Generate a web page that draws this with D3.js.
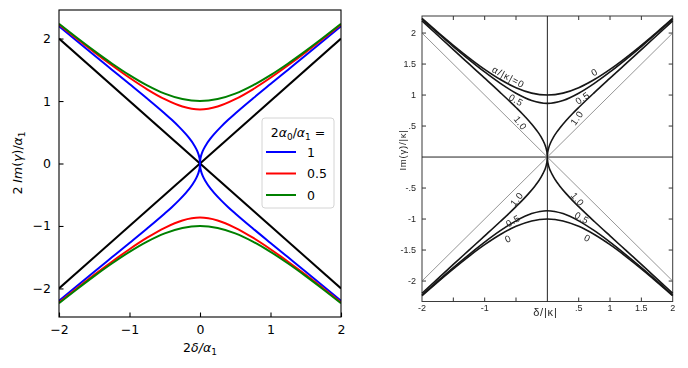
<!DOCTYPE html>
<meta charset="utf-8">
<title>Im(gamma) vs detuning</title>
<style>
body { margin: 0; background: #fff; }
svg { display: block; font-family: "DejaVu Sans", sans-serif; }
.scan text { font-family: "Liberation Sans", Arial, sans-serif; fill: #262626; }
</style>
<body>
<script src="https://d3js.org/d3.v7.min.js"></script>
<script>

// values, right half only (curves are symmetric in x)
var xFine   = [0, 0.005, 0.01, 0.02, 0.03, 0.05, 0.1, 0.15, 0.2, 0.3, 0.4, 0.5, 0.75, 1, 1.25, 1.5, 1.75, 2];
var yA1     = [0, 0.071, 0.100, 0.142, 0.175, 0.226, 0.324, 0.402, 0.470, 0.590, 0.699, 0.800, 1.040, 1.272, 1.502, 1.732, 1.964, 2.197];
var xCoarse = [0, 0.25, 0.5, 0.75, 1, 1.25, 1.5, 1.75, 2];
var yA05    = [0.866, 0.912, 1.029, 1.188, 1.372, 1.572, 1.782, 2.001, 2.225];
var yA0     = [1, 1.031, 1.118, 1.25, 1.414, 1.601, 1.803, 2.016, 2.236];

var legendLabels = ["1", "0.5", "0"];
var seriesColors = ["#0000ff", "#ff0000", "#008000"];
var asymptotes = [[[-2, -2], [2, 2]], [[-2, 2], [2, -2]]];

var leftTicks = [-2, -1, 0, 1, 2];
var scanYTicks = [-2, -1.5, -1, -0.5, 0.5, 1, 1.5, 2];
var scanXTicks = [-1.5, -1, -0.5, 0.5, 1, 1.5];
var scanXLabels = ["-2", "-1", ".5", "1", "1.5", "2"];
var scanXLabelAt = [-2, -1, 0.5, 1, 1.5, 2];

var series = [
  {xs: xFine, ys: yA1},
  {xs: xCoarse, ys: yA05},
  {xs: xCoarse, ys: yA0}
];

// mirror the right half to get a full branch from -2 to 2
function branch(xs, ys, sign) {
  var pts = [];
  for (var i = xs.length - 1; i > 0; i--) pts.push([-xs[i], sign * ys[i]]);
  for (var j = 0; j < xs.length; j++) pts.push([xs[j], sign * ys[j]]);
  return pts;
}

var width = 688, height = 368;
var svg = d3.select("body").append("svg")
    .attr("width", width)
    .attr("height", height);

/* ---------- left panel (matplotlib style) ---------- */
var x = d3.scaleLinear().domain([-2, 2]).range([59, 341]);
var y = d3.scaleLinear().domain([-2.457, 2.457]).range([317, 10]);

var line = d3.line()
    .x(function(d) { return x(d[0]); })
    .y(function(d) { return y(d[1]); })
    .curve(d3.curveMonotoneX);

var L = svg.append("g");

L.append("defs").append("clipPath").attr("id", "clipL")
  .append("rect").attr("x", 59).attr("y", 10).attr("width", 282).attr("height", 307);

var plot = L.append("g").attr("clip-path", "url(#clipL)");

asymptotes.forEach(function(a) {
  plot.append("path").attr("d", d3.line().x(function(d) { return x(d[0]); }).y(function(d) { return y(d[1]); })(a))
    .attr("fill", "none").attr("stroke", "#000").attr("stroke-width", 2);
});

series.forEach(function(s, i) {
  [1, -1].forEach(function(sg) {
    plot.append("path")
      .attr("d", line(branch(s.xs, s.ys, sg)))
      .attr("fill", "none")
      .attr("stroke", seriesColors[i])
      .attr("stroke-width", 2);
  });
});

// axes, ticks pointing inward
var xAxis = d3.axisBottom(x).tickValues(leftTicks).tickSizeInner(-4.5).tickSizeOuter(0).tickPadding(8)
    .tickFormat(function(d) { return d < 0 ? "\u2212" + (-d) : d; });
var yAxis = d3.axisLeft(y).tickValues(leftTicks).tickSizeInner(-4.5).tickSizeOuter(0).tickPadding(8)
    .tickFormat(function(d) { return d < 0 ? "\u2212" + (-d) : d; });

var gx = L.append("g").attr("transform", "translate(0,317)").call(xAxis);
var gy = L.append("g").attr("transform", "translate(59,0)").call(yAxis);
[gx, gy].forEach(function(g) {
  g.select(".domain").remove();
  g.selectAll("line").attr("stroke", "#000").attr("stroke-width", 1.1);
  g.selectAll("text").attr("font-family", "DejaVu Sans").attr("font-size", 12.5).attr("fill", "#000");
});

L.append("rect").attr("x", 59).attr("y", 10).attr("width", 282).attr("height", 307)
  .attr("fill", "none").attr("stroke", "#000").attr("stroke-width", 1.1);

// axis labels
var xl = L.append("text").attr("x", 200).attr("y", 352).attr("text-anchor", "middle").attr("font-size", 12.5);
xl.append("tspan").text("2");
xl.append("tspan").attr("font-style", "italic").text("\u03b4/\u03b1");
xl.append("tspan").attr("font-size", 9).attr("dy", 3).text("1");

var yl = L.append("text").attr("transform", "translate(22,163) rotate(-90)").attr("text-anchor", "middle").attr("font-size", 12.5);
yl.append("tspan").text("2 ");
yl.append("tspan").attr("font-style", "italic").text("Im");
yl.append("tspan").text("(");
yl.append("tspan").attr("font-style", "italic").text("\u03b3");
yl.append("tspan").text(")/");
yl.append("tspan").attr("font-style", "italic").text("\u03b1");
yl.append("tspan").attr("font-size", 9).attr("dy", 3).text("1");

// legend
var lg = L.append("g");
lg.append("rect").attr("x", 262).attr("y", 118).attr("width", 72).attr("height", 90).attr("rx", 3)
  .attr("fill", "#fff").attr("fill-opacity", 0.85).attr("stroke", "#d4d4d4").attr("stroke-width", 1);
var lt = lg.append("text").attr("x", 298).attr("y", 137).attr("text-anchor", "middle").attr("font-size", 12.5);
lt.append("tspan").text("2");
lt.append("tspan").attr("font-style", "italic").text("\u03b1");
lt.append("tspan").attr("font-size", 9).attr("dy", 3).text("0");
lt.append("tspan").attr("dy", -3).text("/");
lt.append("tspan").attr("font-style", "italic").text("\u03b1");
lt.append("tspan").attr("font-size", 9).attr("dy", 3).text("1");
lt.append("tspan").attr("dy", -3).text(" =");

legendLabels.forEach(function(lab, i) {
  var yy = 152 + i * 21.5;
  lg.append("line").attr("x1", 266).attr("x2", 296).attr("y1", yy).attr("y2", yy)
    .attr("stroke", seriesColors[i]).attr("stroke-width", 2);
  lg.append("text").attr("x", 307).attr("y", yy + 4.5).attr("font-size", 12.5).text(lab);
});

/* ---------- right panel (old scanned figure) ---------- */
var xr = d3.scaleLinear().domain([-2, 2]).range([422, 672.7]);
var yr = d3.scaleLinear().domain([-2.33, 2.275]).range([301.5, 16]);

var liner = d3.line()
    .x(function(d) { return xr(d[0]); })
    .y(function(d) { return yr(d[1]); })
    .curve(d3.curveMonotoneX);

var defs = svg.append("defs");
defs.append("filter").attr("id", "scanBlur")
  .append("feGaussianBlur").attr("stdDeviation", 0.35);

var R = svg.append("g").attr("class", "scan").attr("filter", "url(#scanBlur)");

R.append("rect").attr("x", 422).attr("y", 16).attr("width", 250.7).attr("height", 285.5)
  .attr("fill", "none").attr("stroke", "#3a3a3a").attr("stroke-width", 1);

// zero lines
R.append("line").attr("x1", 422).attr("x2", 672.7).attr("y1", yr(0)).attr("y2", yr(0))
  .attr("stroke", "#222").attr("stroke-width", 1);
R.append("line").attr("x1", xr(0)).attr("x2", xr(0)).attr("y1", 16).attr("y2", 301.5)
  .attr("stroke", "#222").attr("stroke-width", 1);

asymptotes.forEach(function(a) {
  R.append("path").attr("d", d3.line().x(function(d) { return xr(d[0]); }).y(function(d) { return yr(d[1]); })(a))
    .attr("fill", "none").attr("stroke", "#8a8a8a").attr("stroke-width", 0.9);
});

series.forEach(function(s) {
  [1, -1].forEach(function(sg) {
    R.append("path")
      .attr("d", liner(branch(s.xs, s.ys, sg)))
      .attr("fill", "none")
      .attr("stroke", "#141414")
      .attr("stroke-width", 1.6);
  });
});

// inward ticks on all four sides
scanYTicks.forEach(function(t) {
  R.append("line").attr("x1", 422).attr("x2", 426).attr("y1", yr(t)).attr("y2", yr(t)).attr("stroke", "#333");
  R.append("line").attr("x1", 668.7).attr("x2", 672.7).attr("y1", yr(t)).attr("y2", yr(t)).attr("stroke", "#333");
  R.append("text").attr("x", 416).attr("y", yr(t) + 3.2).attr("text-anchor", "end").attr("font-size", 9)
    .text(String(t).replace("0.", "."));
});
scanXTicks.forEach(function(t) {
  R.append("line").attr("x1", xr(t)).attr("x2", xr(t)).attr("y1", 301.5).attr("y2", 297.5).attr("stroke", "#333");
  R.append("line").attr("x1", xr(t)).attr("x2", xr(t)).attr("y1", 16).attr("y2", 20).attr("stroke", "#333");
});
scanXLabels.forEach(function(lab, i) {
  R.append("text").attr("x", xr(scanXLabelAt[i])).attr("y", 311).attr("text-anchor", "middle")
    .attr("font-size", 9).text(lab);
});

R.append("text").attr("x", xr(0) - 2).attr("y", 316).attr("text-anchor", "middle").attr("font-size", 11)
  .attr("letter-spacing", 0.8).text("\u03b4/|\u03ba|");
R.append("text").attr("transform", "translate(406,150) rotate(-90)").attr("text-anchor", "middle")
  .attr("font-size", 9.5).attr("letter-spacing", 0.8).text("Im(\u03b3)/|\u03ba|");

// curve annotations: [text, x, y, angle]
var scanNotes = [
  ["\u03b1/|\u03ba|=0", -0.62, 1.29, 28],
  ["0.5", -0.50, 0.92, 30],
  ["1.0", -0.43, 0.55, 52],
  ["0", 0.75, 1.37, -30],
  ["0.5", 0.56, 0.95, -35],
  ["1.0", 0.47, 0.63, -55],
  ["1.0", -0.49, -0.68, -52],
  ["0.5", -0.55, -1.03, -30],
  ["0", -0.63, -1.32, -25],
  ["1.0", 0.48, -0.68, 50],
  ["0.5", 0.55, -0.98, 30],
  ["0", 0.64, -1.31, 28]
];
scanNotes.forEach(function(n) {
  R.append("text")
    .attr("transform", "translate(" + xr(n[1]) + "," + yr(n[2]) + ") rotate(" + n[3] + ")")
    .attr("text-anchor", "middle").attr("dy", 3.3).attr("font-size", 9.5)
    .attr("letter-spacing", n[0].length > 3 ? 1 : 0.5)
    .text(n[0]);
});

</script>
